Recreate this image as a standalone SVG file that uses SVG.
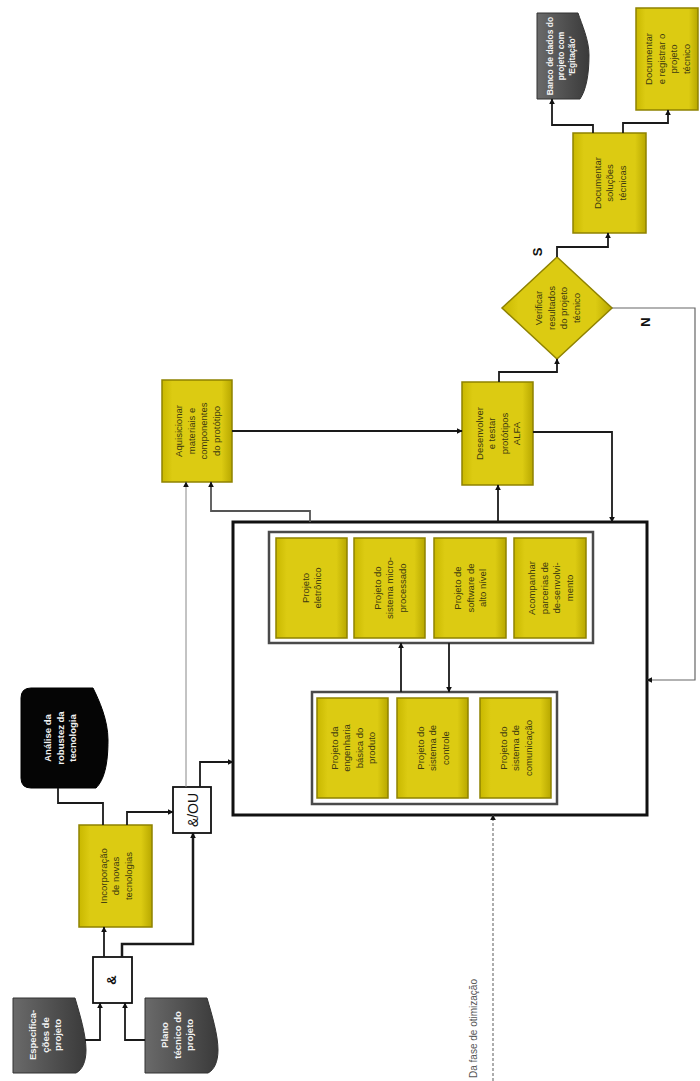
<svg xmlns="http://www.w3.org/2000/svg" width="700" height="1081" viewBox="0 0 700 1081">
<defs>
<linearGradient id="yel" x1="0" y1="0" x2="1" y2="0">
<stop offset="0" stop-color="#c9b800"/>
<stop offset="0.15" stop-color="#dccb12"/>
<stop offset="0.85" stop-color="#dccb12"/>
<stop offset="1" stop-color="#b8a800"/>
</linearGradient>
<linearGradient id="gry" x1="0" y1="0" x2="1" y2="0">
<stop offset="0" stop-color="#6a6a6a"/>
<stop offset="1" stop-color="#3a3a3a"/>
</linearGradient>
<marker id="ar" viewBox="0 0 10 10" refX="9" refY="5" markerWidth="6" markerHeight="6" orient="auto" markerUnits="userSpaceOnUse">
<path d="M0,0 L10,5 L0,10 z" fill="#111"/>
</marker>
</defs>
<style>
.y{fill:url(#yel);stroke:#8f8200;stroke-width:1.5}
.d{fill:url(#gry);stroke:#333;stroke-width:1}
.k{fill:#050505;stroke:#000;stroke-width:1}
.g{fill:#fff;stroke:#4a4a4a;stroke-width:2.5}
.w{fill:#fff;stroke:#111;stroke-width:1.8}
.t{font-family:"Liberation Sans",Arial,sans-serif;font-size:9.5px;fill:#3d3a10;text-anchor:middle}
.tw{font-family:"Liberation Sans",Arial,sans-serif;font-size:9.5px;fill:#f2f2f2;text-anchor:middle;font-weight:bold}
.c{fill:none;stroke:#1a1a1a;stroke-width:1.8;marker-end:url(#ar)}
</style>
<rect width="700" height="1081" fill="#fff"/>

<g id="n-espec">
<path class="d" d="M13,998 H75 C80,1015 86,1035 86,1050 C86,1062 82,1070 76,1073 H13 Z"/>
<text class="tw" transform="translate(45,1035) rotate(-90)"><tspan x="0" y="-9">Especifica-</tspan><tspan x="0" y="3.5">ções de</tspan><tspan x="0" y="16">projeto</tspan></text>
</g>
<g id="n-plano">
<path class="d" d="M145,998 H207 C212,1015 218,1035 218,1050 C218,1062 214,1070 208,1073 H145 Z"/>
<text class="tw" transform="translate(177,1035) rotate(-90)"><tspan x="0" y="-9">Plano</tspan><tspan x="0" y="3.5">técnico do</tspan><tspan x="0" y="16">projeto</tspan></text>
</g>
<g id="n-and">
<rect class="w" x="93" y="957" width="39" height="46"/>
<text transform="translate(116,980) rotate(-90)" style="font-family:'Liberation Sans',Arial,sans-serif;font-size:13px;font-weight:bold;text-anchor:middle;fill:#111">&amp;</text>
</g>
<g id="n-incorp">
<rect class="y" x="79" y="825" width="73" height="102"/>
<text class="t" transform="translate(115.5,876) rotate(-90)"><tspan x="0" y="-9">Incorporação</tspan><tspan x="0" y="3.5">de novas</tspan><tspan x="0" y="16">tecnologias</tspan></text>
</g>
<g id="n-analise">
<path class="k" d="M31,688 H93 C99,700 108,720 108,740 C108,765 104,780 96,788 H31 Q21,788 21,778 V698 Q21,688 31,688 Z"/>
<text class="tw" transform="translate(60,738) rotate(-90)"><tspan x="0" y="-9">Análise da</tspan><tspan x="0" y="3.5">robustez da</tspan><tspan x="0" y="16">tecnologia</tspan></text>
</g>
<g id="n-eou">
<rect class="w" x="173" y="787" width="38" height="46"/>
<text transform="translate(198,810) rotate(-90)" style="font-family:'Liberation Sans',Arial,sans-serif;font-size:14px;text-anchor:middle;fill:#111">&amp;/OU</text>
</g>
<g id="n-bigbox">
<rect x="233" y="522" width="414" height="293" fill="#fff" stroke="#111" stroke-width="3"/>
</g>
<g id="n-grupo-sup">
<rect class="g" x="269" y="532" width="324" height="111"/>
</g>
<g id="n-p-eletronico">
<rect class="y" x="276" y="538" width="71" height="100"/>
<text class="t" transform="translate(311.5,588) rotate(-90)"><tspan x="0" y="-3">Projeto</tspan><tspan x="0" y="9.5">eletrônico</tspan></text>
</g>
<g id="n-p-micro">
<rect class="y" x="354" y="538" width="71" height="100"/>
<text class="t" transform="translate(389.5,588) rotate(-90)"><tspan x="0" y="-9">Projeto do</tspan><tspan x="0" y="3.5">sistema micro-</tspan><tspan x="0" y="16">processado</tspan></text>
</g>
<g id="n-p-software">
<rect class="y" x="434" y="538" width="72" height="100"/>
<text class="t" transform="translate(470,588) rotate(-90)"><tspan x="0" y="-9">Projeto de</tspan><tspan x="0" y="3.5">software de</tspan><tspan x="0" y="16">alto nível</tspan></text>
</g>
<g id="n-p-parcerias">
<rect class="y" x="514" y="538" width="72" height="100"/>
<text class="t" transform="translate(550,588) rotate(-90)"><tspan x="0" y="-15">Acompanhar</tspan><tspan x="0" y="-2.5">parcerias de</tspan><tspan x="0" y="10">de-senvolvi-</tspan><tspan x="0" y="22.5">mento</tspan></text>
</g>
<g id="n-grupo-inf">
<rect class="g" x="312" y="692" width="245" height="112"/>
</g>
<g id="n-p-engenharia">
<rect class="y" x="317" y="698" width="71" height="100"/>
<text class="t" transform="translate(352.5,748) rotate(-90)"><tspan x="0" y="-15">Projeto da</tspan><tspan x="0" y="-2.5">engenharia</tspan><tspan x="0" y="10">básica do</tspan><tspan x="0" y="22.5">produto</tspan></text>
</g>
<g id="n-p-controle">
<rect class="y" x="397" y="698" width="71" height="100"/>
<text class="t" transform="translate(432.5,748) rotate(-90)"><tspan x="0" y="-9">Projeto do</tspan><tspan x="0" y="3.5">sistema de</tspan><tspan x="0" y="16">controle</tspan></text>
</g>
<g id="n-p-comunicacao">
<rect class="y" x="480" y="698" width="71" height="100"/>
<text class="t" transform="translate(515.5,748) rotate(-90)"><tspan x="0" y="-9">Projeto do</tspan><tspan x="0" y="3.5">sistema de</tspan><tspan x="0" y="16">comunicação</tspan></text>
</g>
<g id="n-aquisicionar">
<rect class="y" x="162" y="380" width="70" height="102"/>
<text class="t" transform="translate(197,431) rotate(-90)"><tspan x="0" y="-15">Aquisicionar</tspan><tspan x="0" y="-2.5">materiais e</tspan><tspan x="0" y="10">componentes</tspan><tspan x="0" y="22.5">do protótipo</tspan></text>
</g>
<g id="n-desenvolver">
<rect class="y" x="462" y="382" width="71" height="103"/>
<text class="t" transform="translate(497.5,433.5) rotate(-90)"><tspan x="0" y="-15">Desenvolver</tspan><tspan x="0" y="-2.5">e testar</tspan><tspan x="0" y="10">protótipos</tspan><tspan x="0" y="22.5">ALFA</tspan></text>
</g>
<g id="n-verificar">
<path class="y" d="M557,257 L612,308 L557,359 L502,308 Z"/>
<text class="t" transform="translate(557,308) rotate(-90)"><tspan x="0" y="-15">Verificar</tspan><tspan x="0" y="-2.5">resultados</tspan><tspan x="0" y="10">do projeto</tspan><tspan x="0" y="22.5">técnico</tspan></text>
</g>
<g id="n-doc-solucoes">
<rect class="y" x="573" y="133" width="73" height="100"/>
<text class="t" transform="translate(609.5,183) rotate(-90)"><tspan x="0" y="-9">Documentar</tspan><tspan x="0" y="3.5">soluções</tspan><tspan x="0" y="16">técnicas</tspan></text>
</g>
<g id="n-banco">
<path class="d" d="M537,13 H578 C582,25 589,40 589,55 C589,75 586,90 580,99 H537 Z"/>
<text class="tw" transform="translate(561,56) rotate(-90)" style="font-size:8.5px"><tspan x="0" y="-8">Banco de dados do</tspan><tspan x="0" y="3">projeto com</tspan><tspan x="0" y="14">'Egitação'</tspan></text>
</g>
<g id="n-doc-registrar">
<rect class="y" x="636" y="8" width="62" height="102"/>
<text class="t" transform="translate(667,59) rotate(-90)"><tspan x="0" y="-15">Documentar</tspan><tspan x="0" y="-2.5">e registrar o</tspan><tspan x="0" y="10">projeto</tspan><tspan x="0" y="22.5">técnico</tspan></text>
</g>

<g id="labels" style="font-family:'Liberation Sans',Arial,sans-serif;font-weight:bold;font-size:13px;fill:#111">
<text transform="translate(542,252) rotate(-90)" text-anchor="middle">S</text>
<text transform="translate(650,322) rotate(-90)" text-anchor="middle">N</text>
<text transform="translate(477,1078) rotate(-90)" style="font-weight:normal;font-size:10px;fill:#555">Da fase de otimização</text>
</g>

<g id="connectors">
<path class="c" d="M85,1040 H100 V1003"/>
<path class="c" d="M145,1040 H125 V1003"/>
<path class="c" d="M104,957 V927"/>
<path class="c" d="M122,957 V944 H193 V833" style="stroke-width:2.5"/>
<path d="M58,788 V803 H103 V825" fill="none" stroke="#1a1a1a" stroke-width="1.8"/>
<path class="c" d="M127,825 V812 H173"/>
<path class="c" d="M186,787 V482" style="stroke:#888;stroke-width:1"/>
<path class="c" d="M200,787 V762 H233"/>
<path class="c" d="M310,522 V511 H211 V482" style="stroke:#555"/>
<path class="c" d="M232,431 H462"/>
<path class="c" d="M498,522 V485"/>
<path class="c" d="M533,432 H612 V522"/>
<path class="c" d="M499,382 V372 H557 V359"/>
<path class="c" d="M557,257 V247 H608 V233"/>
<path class="c" d="M612,308 H695 V680 H647" style="stroke:#666;stroke-width:1.2"/>
<path class="c" d="M593,133 V125 H552 V99"/>
<path class="c" d="M623,133 V123 H668 V110"/>
<path class="c" d="M401,692 V643"/>
<path class="c" d="M449,643 V692"/>
<path class="c" d="M493,1081 V815" style="stroke:#777;stroke-width:1.2;stroke-dasharray:3 2"/>
</g>
</svg>
